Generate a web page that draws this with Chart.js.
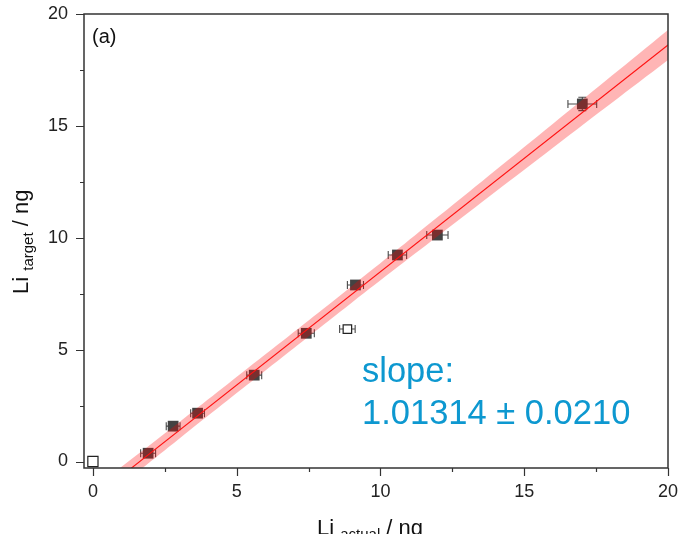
<!DOCTYPE html>
<html>
<head>
<meta charset="utf-8">
<title>Li target vs actual</title>
<script src="https://cdn.jsdelivr.net/npm/chart.js@4.4.1/dist/chart.umd.min.js"></script>
<style>
  html, body { margin: 0; padding: 0; background: #fff; }
  #wrap { width: 680px; height: 534px; }
</style>
</head>
<body>
<div id="wrap"><canvas id="chart" width="680" height="534"></canvas></div>
<script>
// measured samples (filled squares)
const sampleX = [1.92, 2.79, 3.64, 5.61, 7.42, 9.13, 10.59, 11.98, 17.02];
const sampleY = [0.37, 1.58, 2.16, 3.86, 5.73, 7.89, 9.23, 10.12, 15.98];
const sampleXErr = [0.26, 0.24, 0.24, 0.26, 0.28, 0.28, 0.32, 0.37, 0.50];
const sampleYErr = [0.15, 0.12, 0.15, 0.15, 0.16, 0.18, 0.18, 0.18, 0.30];

// excluded points (open squares)
const outlierX = [0, 8.85];
const outlierY = [0, 5.92];
const outlierXErr = [0, 0.27];
const outlierYErr = [0, 0.10];

// linear fit and its confidence band
const fitSlope = 1.01314;
const fitIntercept = -1.65;
const fitX = [-0.5, 20.5];
const bandX = [-0.5, 3, 6, 9, 12, 16, 20.5];
const bandHalf = [0.44, 0.37, 0.36, 0.37, 0.43, 0.54, 0.69];

const majorTicks = [0, 5, 10, 15, 20];
const minorTicks = [2.5, 7.5, 12.5, 17.5];

const AXIS_COLOR = '#333';
const FONT = '"Liberation Sans", Arial, sans-serif';

const toPoints = (xs, ys) => xs.map((x, i) => ({ x, y: ys[i] }));
const fitY = x => fitSlope * x + fitIntercept;

const fitLine = fitX.map(x => ({ x, y: fitY(x) }));
const bandLower = bandX.map((x, i) => ({ x, y: fitY(x) - bandHalf[i] }));
const bandUpper = bandX.map((x, i) => ({ x, y: fitY(x) + bandHalf[i] }));

// whiskers with end caps, drawn under the markers
const errorBars = {
    id: 'errorBars',
    beforeDatasetsDraw(chart) {
        const { ctx, chartArea } = chart;
        const xs = chart.scales.x, ys = chart.scales.y;
        const cap = 4;
        const sets = [
            [sampleX, sampleY, sampleXErr, sampleYErr],
            [outlierX, outlierY, outlierXErr, outlierYErr]
        ];
        ctx.save();
        ctx.beginPath();
        ctx.rect(chartArea.left, chartArea.top, chartArea.width, chartArea.height);
        ctx.clip();
        ctx.strokeStyle = '#4a4a4a';
        ctx.lineWidth = 1.1;
        sets.forEach(([px, py, ex, ey]) => {
            px.forEach((x, i) => {
                const cx = xs.getPixelForValue(x);
                const cy = ys.getPixelForValue(py[i]);
                if (ex[i] > 0) {
                    const l = xs.getPixelForValue(x - ex[i]);
                    const r = xs.getPixelForValue(x + ex[i]);
                    ctx.beginPath();
                    ctx.moveTo(l, cy); ctx.lineTo(r, cy);
                    ctx.moveTo(l, cy - cap); ctx.lineTo(l, cy + cap);
                    ctx.moveTo(r, cy - cap); ctx.lineTo(r, cy + cap);
                    ctx.stroke();
                }
                if (ey[i] > 0) {
                    const t = ys.getPixelForValue(py[i] + ey[i]);
                    const b = ys.getPixelForValue(py[i] - ey[i]);
                    ctx.beginPath();
                    ctx.moveTo(cx, t); ctx.lineTo(cx, b);
                    ctx.moveTo(cx - cap, t); ctx.lineTo(cx + cap, t);
                    ctx.moveTo(cx - cap, b); ctx.lineTo(cx + cap, b);
                    ctx.stroke();
                }
            });
        });
        ctx.restore();
    }
};

// frame, tick marks, axis titles and annotations
const decorations = {
    id: 'decorations',
    afterDraw(chart) {
        const { ctx, chartArea: a } = chart;
        const xs = chart.scales.x, ys = chart.scales.y;
        ctx.save();
        ctx.strokeStyle = AXIS_COLOR;
        ctx.lineWidth = 1.5;
        ctx.strokeRect(a.left, a.top, a.right - a.left, a.bottom - a.top);

        ctx.lineWidth = 1.2;
        ctx.beginPath();
        const tick = (v, len) => {
            const px = Math.round(xs.getPixelForValue(v)) + 0.5;
            ctx.moveTo(px, a.bottom); ctx.lineTo(px, a.bottom + len);
            const py = Math.round(ys.getPixelForValue(v)) + 0.5;
            ctx.moveTo(a.left, py); ctx.lineTo(a.left - len, py);
        };
        majorTicks.forEach(v => tick(v, 8));
        minorTicks.forEach(v => tick(v, 4));
        ctx.stroke();

        ctx.fillStyle = '#111';
        ctx.textBaseline = 'alphabetic';
        ctx.textAlign = 'left';
        ctx.font = '20px ' + FONT;
        ctx.fillText('(a)', 92, 43);

        // x title: Li_actual / ng
        let x = 317;
        const base = 535;
        ctx.font = '22px ' + FONT;
        ctx.fillText('Li', x, base);
        x += ctx.measureText('Li ').width;
        ctx.font = '15px ' + FONT;
        ctx.fillText('actual', x, base + 4);
        x += ctx.measureText('actual').width;
        ctx.font = '22px ' + FONT;
        ctx.fillText(' / ng', x, base);

        // y title: Li_target / ng, rotated
        ctx.translate(28, 294);
        ctx.rotate(-Math.PI / 2);
        let t = 0;
        ctx.font = '22px ' + FONT;
        ctx.fillText('Li', t, 0);
        t += ctx.measureText('Li ').width;
        ctx.font = '15px ' + FONT;
        ctx.fillText('target', t, 5);
        t += ctx.measureText('target').width;
        ctx.font = '22px ' + FONT;
        ctx.fillText(' / ng', t, 0);
        ctx.setTransform(1, 0, 0, 1, 0, 0);

        ctx.fillStyle = '#0d98d0';
        ctx.font = '34.5px ' + FONT;
        ctx.fillText('slope:', 362, 382);
        ctx.fillText('1.01314 \u00b1 0.0210', 362, 424);
        ctx.restore();
    }
};

// tick marks are drawn by the plugin; the invisible tick length just sets label offset
const axis = (min, max, fitSize, offset) => ({
    type: 'linear',
    min, max,
    afterBuildTicks: s => { s.ticks = majorTicks.map(v => ({ value: v })); },
    afterFit: fitSize,
    border: { display: false },
    grid: {
        drawOnChartArea: false,
        drawTicks: true,
        tickLength: offset,
        tickColor: 'rgba(0,0,0,0)'
    },
    ticks: {
        color: '#222',
        padding: 0,
        font: { family: FONT, size: 18 },
        callback: v => String(v)
    }
});

new Chart(document.getElementById('chart'), {
    type: 'scatter',
    data: {
        datasets: [
            {
                label: 'samples',
                data: toPoints(sampleX, sampleY),
                pointStyle: 'rect',
                pointRadius: 7.6,
                backgroundColor: '#434343',
                borderColor: '#434343',
                borderWidth: 0,
                order: 5
            },
            {
                label: 'excluded',
                data: toPoints(outlierX, outlierY),
                pointStyle: 'rect',
                pointRadius: [7.2, 6],
                backgroundColor: '#fff',
                borderColor: '#222',
                borderWidth: 1.2,
                order: 5
            },
            {
                label: 'band lower',
                type: 'line',
                data: bandLower,
                borderWidth: 0,
                pointRadius: 0,
                fill: false,
                tension: 0.4,
                order: 3
            },
            {
                label: 'band upper',
                type: 'line',
                data: bandUpper,
                borderWidth: 0,
                pointRadius: 0,
                fill: '-1',
                backgroundColor: 'rgba(255, 0, 0, 0.29)',
                tension: 0.4,
                order: 2
            },
            {
                label: 'fit',
                type: 'line',
                data: fitLine,
                borderColor: '#ff1010',
                borderWidth: 1.1,
                pointRadius: 0,
                fill: false,
                order: 1
            }
        ]
    },
    options: {
        responsive: false,
        animation: false,
        layout: { padding: { top: 14, right: 12, left: 0, bottom: 0 } },
        plugins: {
            legend: { display: false },
            tooltip: { enabled: false }
        },
        scales: {
            x: axis(-0.31, 20, s => { s.height = 66; }, 13),
            y: axis(-0.29, 20, s => { s.width = 84; }, 16)
        }
    },
    plugins: [errorBars, decorations]
});
</script>
</body>
</html>
